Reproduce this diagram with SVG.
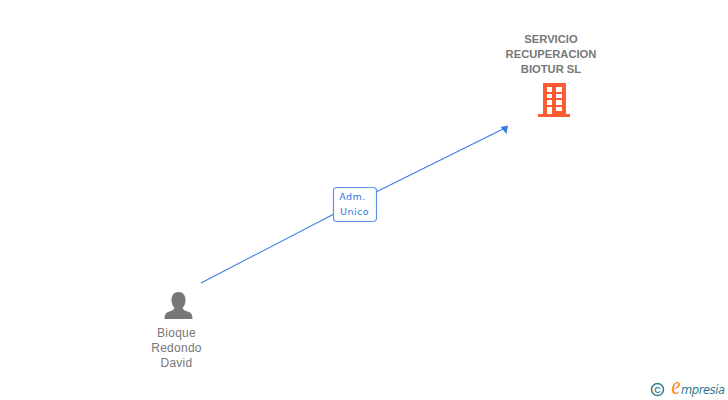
<svg xmlns="http://www.w3.org/2000/svg" width="728" height="400" viewBox="0 0 728 400">
<style>
.co{font:bold 11.2px "Liberation Sans",Arial,sans-serif;fill:#777;text-anchor:middle}
.pe{font:12px "Liberation Sans",Arial,sans-serif;fill:#777;text-anchor:middle;letter-spacing:.25px}
.lb{font:9.5px "DejaVu Sans",sans-serif;fill:#2f78e4;text-anchor:middle;letter-spacing:.5px}
</style>
<rect width="728" height="400" fill="#fff"/>
<g id="connectors">
<path d="M201 283L333 214.500M376 192L505 128" fill="none" stroke="#3a7de0" stroke-width="1.100"/>
<path d="M500.500 127L508 125.500L506.500 134Z" fill="#3a7de0"/>
</g>
<g id="edge-label">
<rect x="333.500" y="187.500" width="43" height="34" rx="3.500" fill="#fff" stroke="#5b93e6" stroke-width="1.200"/>
<text class="lb" x="352.500" y="200">Adm.</text>
<text class="lb" x="354.500" y="215">Unico</text>
</g>
<g id="company">
<text class="co" x="551" y="43">SERVICIO</text>
<text class="co" x="551" y="58">RECUPERACION</text>
<text class="co" x="551" y="73">BIOTUR SL</text>
<path fill="#ff5c33" fill-rule="evenodd" d="M543 83H566V114H570V117H538V114H543ZM547 87V92H552V87ZM556 87V92H562V87ZM547 94V98H552V94ZM556 94V98H562V94ZM547 100V105H552V100ZM556 100V105H562V100ZM547 107V114H552V107ZM556 107V111H562V107Z"/>
</g>
<g id="person">
<path fill="#777" d="M178.500 292C183 292 185.500 295.500 185.500 300C185.500 303 184.500 306 182.500 308C183 310 186 311 189 312C191.500 313 192.500 315 192.500 319H164.500C164.500 315 165.500 313 168 312C171 311 174 310 174.500 308C172.500 306 171.500 303 171.500 300C171.500 295.500 174 292 178.500 292Z"/>
<text class="pe" x="176.500" y="337">Bioque</text>
<text class="pe" x="176.500" y="352">Redondo</text>
<text class="pe" x="176.500" y="367">David</text>
</g>
<g id="logo">
<circle cx="657.500" cy="389.500" r="6" fill="none" stroke="#3f7f92" stroke-width="1.600"/>
<text x="657.500" y="393" font-family="'Liberation Sans',sans-serif" font-size="9" font-weight="bold" fill="#3f7f92" text-anchor="middle">C</text>
<text transform="translate(676 394) scale(1 1.3)" font-family="'Liberation Serif',serif" font-style="italic" font-size="20" fill="#f58a1f" text-anchor="middle">e</text>
<text x="681" y="394" font-family="'DejaVu Sans',sans-serif" font-style="italic" font-size="11.500" fill="#2f7a8f" textLength="44">mpresia</text>
</g>
</svg>
